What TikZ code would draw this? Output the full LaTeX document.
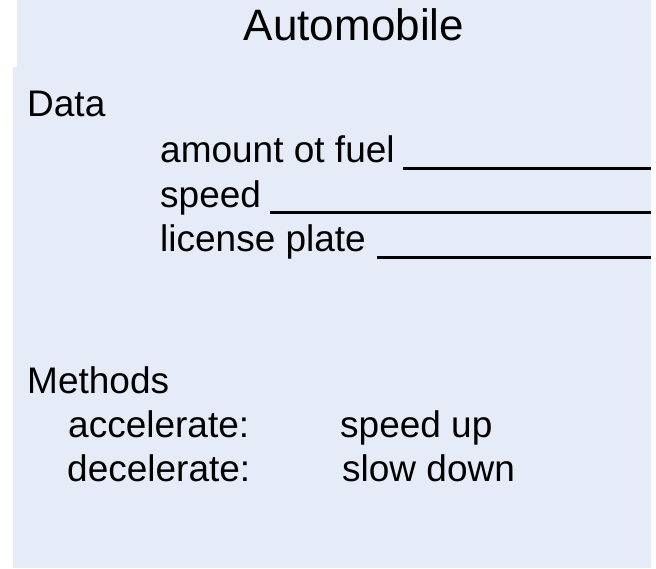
\documentclass[tikz,border=0pt]{standalone}
\usepackage{fontspec}
\setmainfont{Liberation Sans}
\definecolor{panelblue}{RGB}{230,236,247}
\begin{document}
\begin{tikzpicture}[x=1bp,y=-1bp,
  body/.style={anchor=base west,inner sep=0pt,font=\fontsize{37bp}{44bp}\selectfont},
  titletext/.style={anchor=base,inner sep=0pt,font=\fontsize{44bp}{52bp}\selectfont},
  blank/.style={line width=3bp}]
\useasboundingbox (0,0) rectangle (656,569);
\fill[panelblue] (17,0) rectangle (651,67.5);
\fill[panelblue] (13,67) rectangle (651,568);
\node[titletext] (title) at (354,41) {Automobile};
\node[body] (data) at (27,117) {Data};
\node[body] (fuel) at (160,163) {amount ot fuel};
\node[body] (speed) at (160,207) {speed};
\node[body] (plate) at (160,251) {license plate};
\coordinate (fuelend) at (651,168.5);
\coordinate (speedend) at (651,212.5);
\coordinate (plateend) at (651,257);
\draw[blank] (403,168.5) -- (fuelend);
\draw[blank] (270,212.5) -- (speedend);
\draw[blank] (377,257) -- (plateend);
\node[body] (methods) at (27,393) {Methods};
\node[body] (acc) at (68,437) {accelerate:};
\node[body] (dec) at (67,481) {decelerate:};
\node[body] (up) at (340,437) {speed up};
\node[body] (down) at (342,481) {slow down};
\end{tikzpicture}
\end{document}
